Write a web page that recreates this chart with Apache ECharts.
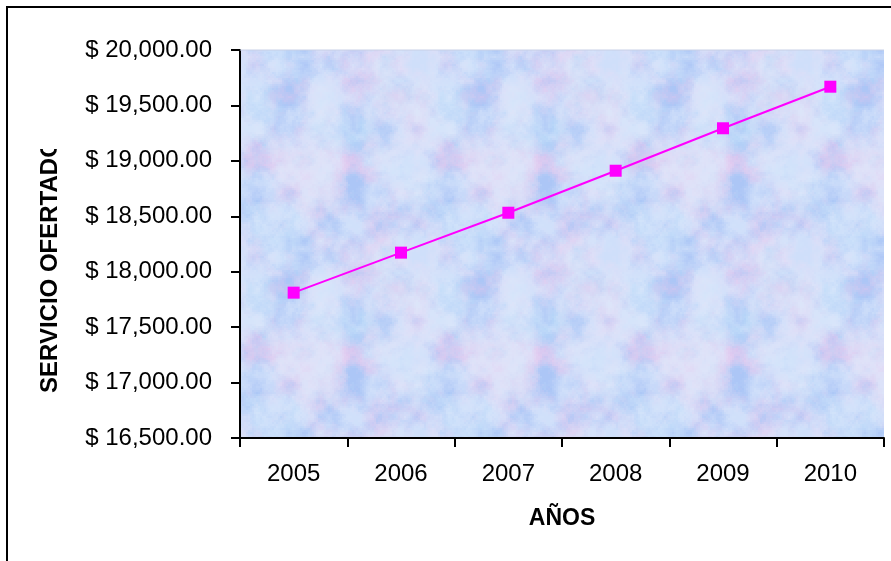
<!DOCTYPE html>
<html>
<head>
<meta charset="utf-8">
<script src="https://cdn.jsdelivr.net/npm/echarts@6/dist/echarts.min.js"></script>
<style>
html,body{margin:0;padding:0;background:#fff;}
#chart{width:891px;height:561px;}
</style>
</head>
<body>
<div id="chart"></div>
<script>
const years = ['2005','2006','2007','2008','2009','2010'];
const servicioOfertado = [17811, 18172, 18532, 18911, 19294, 19669];
const yMin = 16500, yMax = 20000, yStep = 500;
const yTitle = 'SERVICIO OFERTADO';
const xTitle = 'AÑOS';

function makeTexture(){
  const W = 192, H = 192;
  const c = document.createElement('canvas'); c.width = W; c.height = H;
  const ctx = c.getContext('2d');
  const img = ctx.createImageData(W, H);
  function h(x, y, s){ const n = Math.sin(x*127.1 + y*311.7 + s*74.7) * 43758.5453; return n - Math.floor(n); }
  function vn(x, y, s, per){
    const xi = Math.floor(x), yi = Math.floor(y), xf = x - xi, yf = y - yi;
    const u = xf*xf*(3-2*xf), v = yf*yf*(3-2*yf);
    const x0 = ((xi%per)+per)%per, y0 = ((yi%per)+per)%per, x1 = (x0+1)%per, y1 = (y0+1)%per;
    const a = h(x0,y0,s), b = h(x1,y0,s), cc = h(x0,y1,s), d = h(x1,y1,s);
    return a + (b-a)*u + (cc-a)*v + (a-b-cc+d)*u*v;
  }
  function fbm(x, y, s){
    let t = 0, amp = 0.5, norm = 0;
    const pers = [6, 12, 24, 48, 96];
    for (let o = 0; o < pers.length; o++){
      const per = pers[o];
      t += amp * vn(x*per/W, y*per/H, s+o*13, per);
      norm += amp; amp *= 0.6;
    }
    return t / norm;
  }
  const clamp = v => Math.min(1, Math.max(0, v));
  for (let y = 0; y < H; y++){
    for (let x = 0; x < W; x++){
      const bx = Math.floor(x/2)*2, by = Math.floor(y/2)*2;
      const p = clamp((fbm(bx, by, 1) - 0.5) * 3 + 0.4);
      const l = clamp((fbm(bx, by, 7) - 0.5) * 3 + 0.45);
      const q = clamp((fbm(bx, by, 19) - 0.5) * 3 + 0.4);
      // blue <-> lavender/pink
      let r = 172 + (224-172)*p, g = 198 + (198-198)*p, b = 246 + (238-246)*p;
      // cyan tint
      r = r + (196 - r)*q*0.5; g = g + (232 - g)*q*0.5; b = b + (250 - b)*q*0.5;
      // lighten
      r = r + (226 - r)*l*0.65; g = g + (236 - g)*l*0.65; b = b + (252 - b)*l*0.65;
      const i = (y*W + x)*4;
      img.data[i] = r; img.data[i+1] = g; img.data[i+2] = b; img.data[i+3] = 255;
    }
  }
  ctx.putImageData(img, 0, 0);
  return c;
}

const chart = echarts.init(document.getElementById('chart'), null, {renderer: 'canvas'});
const fontFam = '"Liberation Sans", Arial, sans-serif';
chart.setOption({
  animation: false,
  backgroundColor: '#fff',
  grid: {
    left: 240, right: 7, top: 50, bottom: 123,
    show: true,
    backgroundColor: {image: makeTexture(), repeat: 'repeat'},
    borderWidth: 0
  },
  xAxis: {
    type: 'category',
    data: years,
    boundaryGap: true,
    name: xTitle,
    nameLocation: 'middle',
    nameGap: 69,
    nameTextStyle: {fontFamily: fontFam, fontSize: 23, fontWeight: 'bold', color: '#000'},
    axisLine: {lineStyle: {color: '#000', width: 2}},
    axisTick: {show: true, interval: 0, length: 9, lineStyle: {color: '#000', width: 2}},
    axisLabel: {fontFamily: fontFam, fontSize: 24, color: '#000', margin: 24, interval: 0},
    splitLine: {show: false}
  },
  yAxis: {
    type: 'value',
    min: yMin, max: yMax, interval: yStep,
    axisLine: {show: true, lineStyle: {color: '#000', width: 2}},
    axisTick: {show: true, length: 9, lineStyle: {color: '#000', width: 2}},
    axisLabel: {
      fontFamily: fontFam, fontSize: 24, color: '#000', margin: 28,
      formatter: v => '$ ' + v.toLocaleString('en-US', {minimumFractionDigits: 2, maximumFractionDigits: 2})
    },
    splitLine: {show: false}
  },
  graphic: [
    {type: 'rect', z: 100, shape: {x: 7, y: 7, width: 1000, height: 1000},
     style: {fill: 'none', stroke: '#000', lineWidth: 2}},
    {type: 'text', z: 100, x: 50, y: 393, rotation: Math.PI/2,
     style: {text: yTitle, fill: '#000', font: 'bold 24px ' + fontFam, align: 'left', verticalAlign: 'middle'}},
    {type: 'rect', z: 101, shape: {x: 30, y: 100, width: 40, height: 49},
     style: {fill: '#fff'}},
    {type: 'line', z: 100, shape: {x1: 240, y1: 50, x2: 884, y2: 50},
     style: {stroke: '#c8d0e6', lineWidth: 1}}
  ],
  series: [{
    type: 'line',
    data: servicioOfertado,
    symbol: 'rect',
    symbolSize: 12,
    lineStyle: {color: '#ff00ff', width: 2},
    itemStyle: {color: '#ff00ff'},
    z: 10
  }]
});
</script>
</body>
</html>
